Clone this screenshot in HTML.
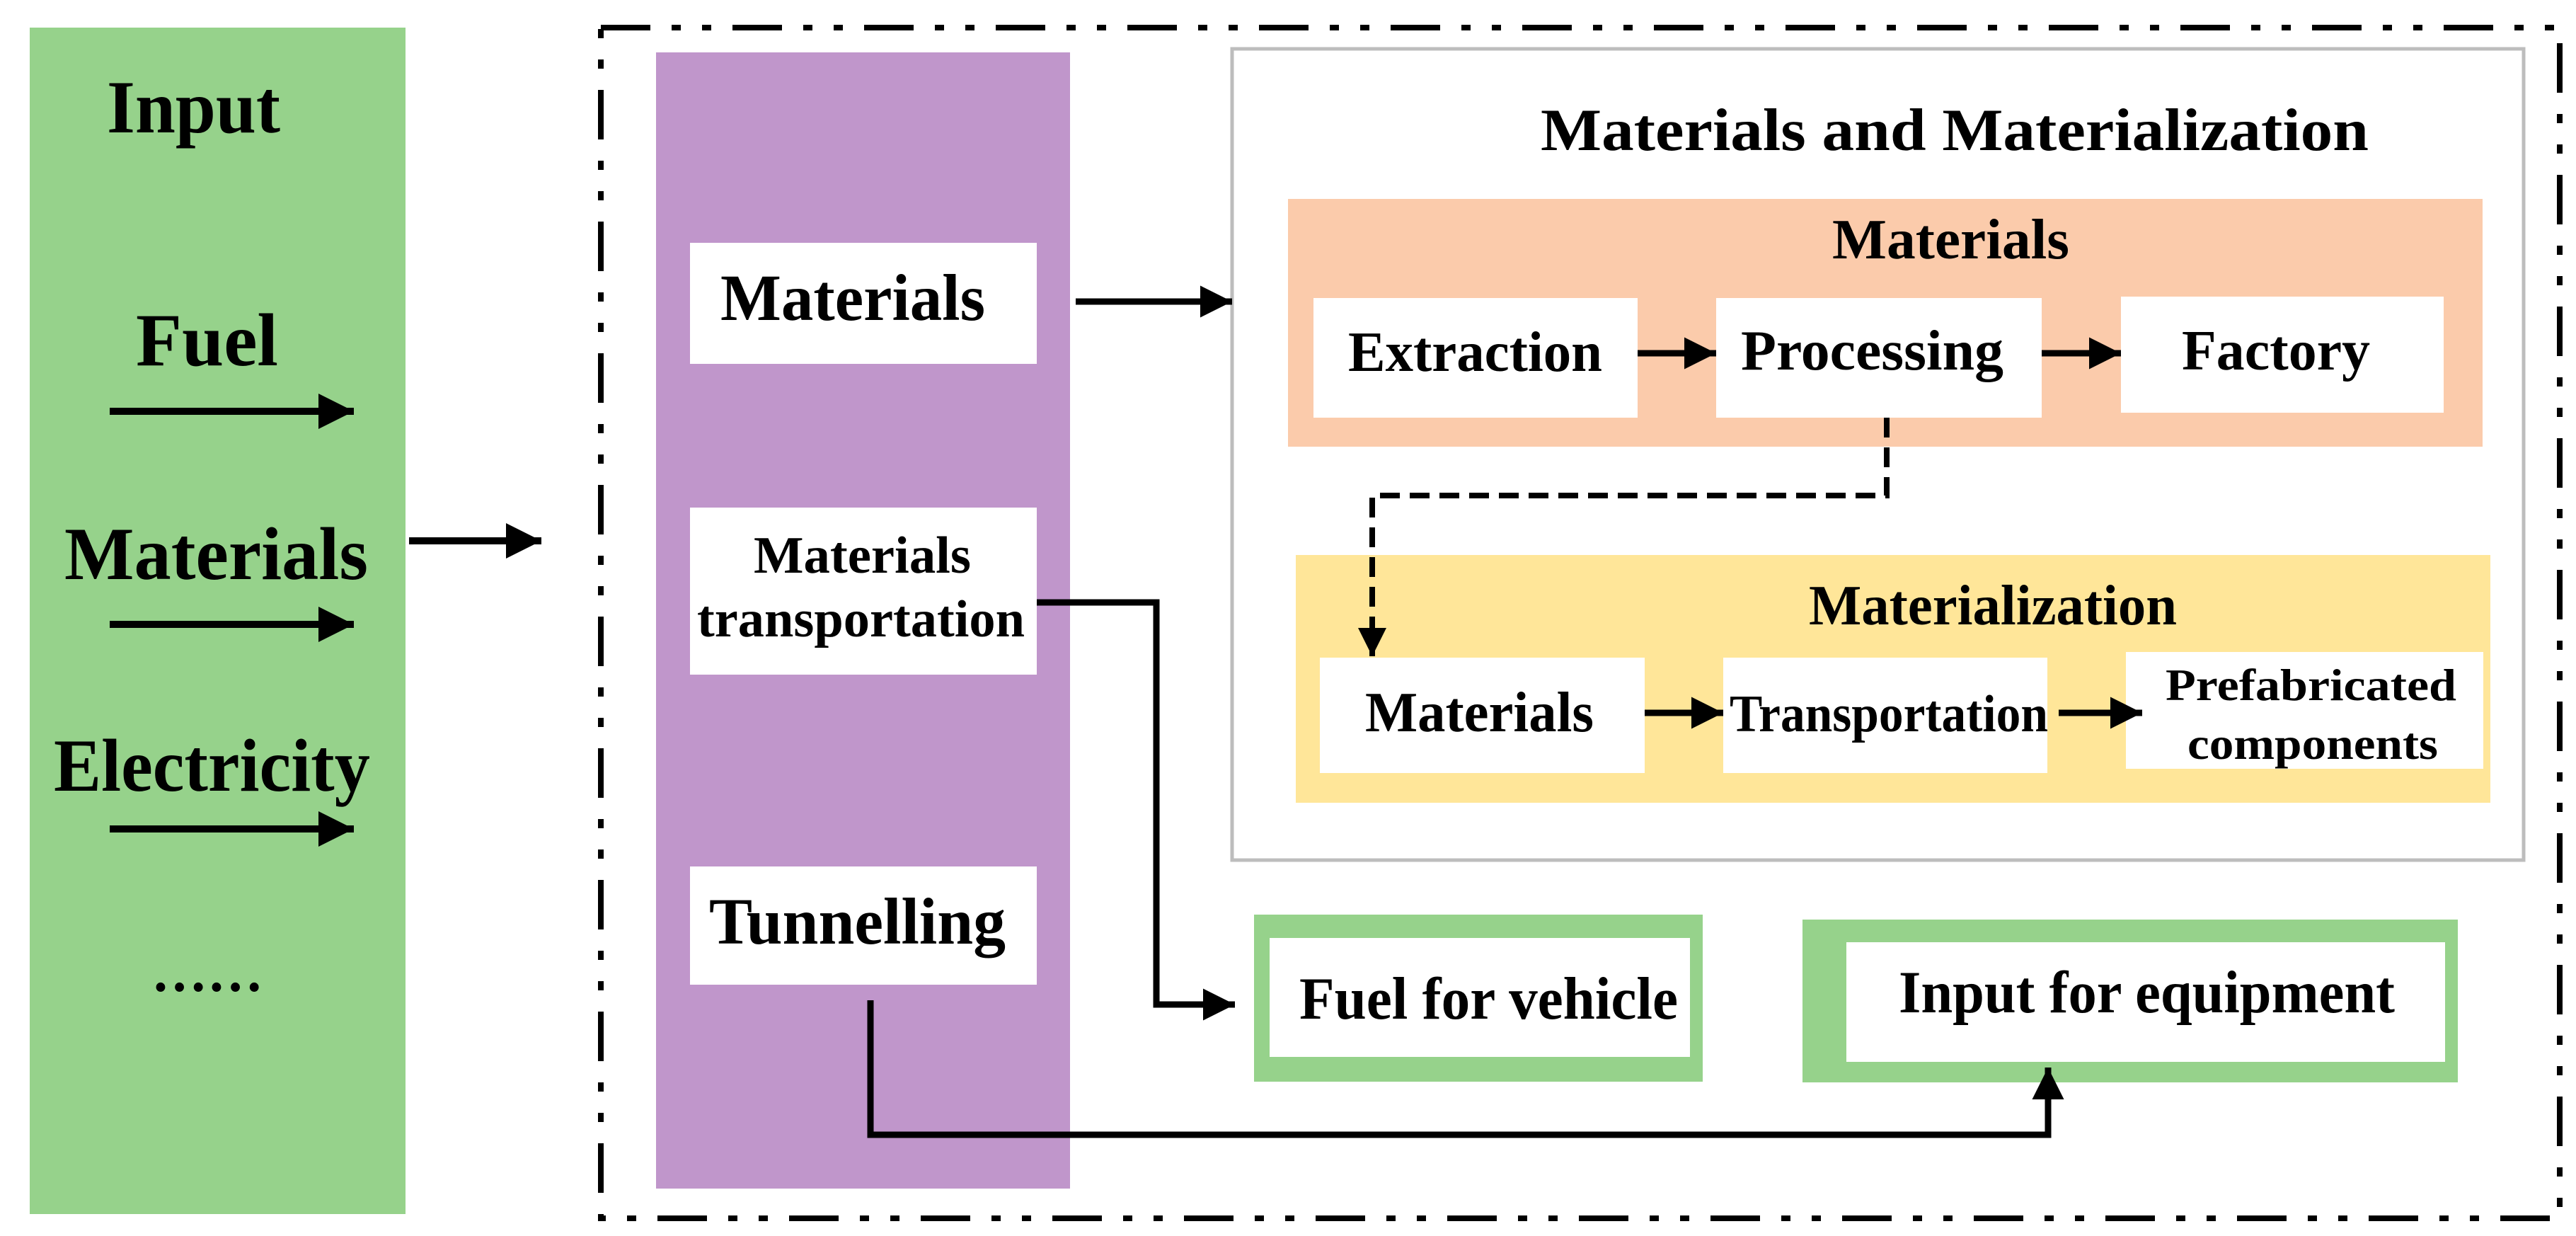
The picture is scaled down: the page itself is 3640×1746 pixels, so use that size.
<!DOCTYPE html>
<html><head><meta charset="utf-8"><style>html,body{margin:0;padding:0;background:#fff}svg{display:block}</style></head>
<body>
<svg width="3640" height="1746" viewBox="0 0 3640 1746" xmlns="http://www.w3.org/2000/svg" font-family="'Liberation Serif', serif" font-weight="bold" fill="#000">
<defs>
<marker id="ah" viewBox="0 0 10 10" refX="10" refY="5" markerWidth="5" markerHeight="5" markerUnits="strokeWidth" orient="auto"><path d="M0,0 L10,5 L0,10 z" fill="#000"/></marker>
</defs>
<rect width="3640" height="1746" fill="#fff"/>
<rect x="42" y="39" width="531" height="1676" fill="#96d28b"/>
<text x="151" y="187" font-size="106" textLength="245" lengthAdjust="spacingAndGlyphs">Input</text>
<text x="192" y="516" font-size="106" textLength="201" lengthAdjust="spacingAndGlyphs">Fuel</text>
<text x="91" y="818" font-size="106" textLength="429" lengthAdjust="spacingAndGlyphs">Materials</text>
<text x="76" y="1117" font-size="106" textLength="447" lengthAdjust="spacingAndGlyphs">Electricity</text>
<text x="214" y="1400" font-size="80" textLength="158" lengthAdjust="spacingAndGlyphs">……</text>
<g stroke="#000" stroke-width="10" fill="none">
<line x1="155" y1="581" x2="500" y2="581" marker-end="url(#ah)"/>
<line x1="155" y1="882" x2="500" y2="882" marker-end="url(#ah)"/>
<line x1="155" y1="1171" x2="500" y2="1171" marker-end="url(#ah)"/>
<line x1="578" y1="764" x2="765" y2="764" marker-end="url(#ah)"/>
</g>
<rect x="849" y="39" width="2768" height="1682" fill="none" stroke="#000" stroke-width="8" stroke-dasharray="70 30 13 30 13 30"/>
<rect x="927" y="74" width="585" height="1605" fill="#c096cb"/>
<rect x="975" y="343" width="490" height="171" fill="#fff"/>
<rect x="975" y="717" width="490" height="236" fill="#fff"/>
<rect x="975" y="1224" width="490" height="167" fill="#fff"/>
<text x="1018" y="452" font-size="93" textLength="374" lengthAdjust="spacingAndGlyphs">Materials</text>
<text x="1065" y="809" font-size="74" textLength="307" lengthAdjust="spacingAndGlyphs">Materials</text>
<text x="985" y="899" font-size="74" textLength="463" lengthAdjust="spacingAndGlyphs">transportation</text>
<text x="1002" y="1333" font-size="93" textLength="419" lengthAdjust="spacingAndGlyphs">Tunnelling</text>
<rect x="1741" y="69" width="1825" height="1146" fill="#fff" stroke="#bdbdbd" stroke-width="5"/>
<text x="2177" y="212" font-size="85" textLength="1170" lengthAdjust="spacingAndGlyphs">Materials and Materialization</text>
<rect x="1820" y="281" width="1688" height="350" fill="#fbcbab"/>
<text x="2589" y="365" font-size="80" textLength="335" lengthAdjust="spacingAndGlyphs">Materials</text>
<rect x="1856" y="421" width="458" height="169" fill="#fff"/>
<rect x="2425" y="421" width="460" height="169" fill="#fff"/>
<rect x="2997" y="419" width="456" height="164" fill="#fff"/>
<text x="1905" y="524" font-size="80" textLength="359" lengthAdjust="spacingAndGlyphs">Extraction</text>
<text x="2460" y="522" font-size="80" textLength="371" lengthAdjust="spacingAndGlyphs">Processing</text>
<text x="3083" y="522" font-size="80" textLength="266" lengthAdjust="spacingAndGlyphs">Factory</text>
<rect x="1831" y="784" width="1688" height="350" fill="#ffe699"/>
<text x="2556" y="882" font-size="80" textLength="520" lengthAdjust="spacingAndGlyphs">Materialization</text>
<rect x="1865" y="929" width="459" height="163" fill="#fff"/>
<rect x="2435" y="929" width="458" height="163" fill="#fff"/>
<rect x="3004" y="921" width="505" height="165" fill="#fff"/>
<text x="1929" y="1033" font-size="80" textLength="323" lengthAdjust="spacingAndGlyphs">Materials</text>
<text x="2444" y="1033" font-size="74" textLength="450" lengthAdjust="spacingAndGlyphs">Transportation</text>
<text x="3060" y="989" font-size="64" textLength="411" lengthAdjust="spacingAndGlyphs">Prefabricated</text>
<text x="3091" y="1072" font-size="64" textLength="354" lengthAdjust="spacingAndGlyphs">components</text>
<rect x="1772" y="1292" width="634" height="236" fill="#96d28b"/>
<rect x="1794" y="1325" width="594" height="168" fill="#fff"/>
<text x="1836" y="1439" font-size="85" textLength="535" lengthAdjust="spacingAndGlyphs">Fuel for vehicle</text>
<rect x="2547" y="1299" width="926" height="230" fill="#96d28b"/>
<rect x="2609" y="1331" width="846" height="169" fill="#fff"/>
<text x="2683" y="1430" font-size="85" textLength="701" lengthAdjust="spacingAndGlyphs">Input for equipment</text>
<g stroke="#000" stroke-width="9" fill="none">
<line x1="1520" y1="426" x2="1741" y2="426" marker-end="url(#ah)"/>
<line x1="2314" y1="499" x2="2425" y2="499" marker-end="url(#ah)"/>
<line x1="2885" y1="499" x2="2997" y2="499" marker-end="url(#ah)"/>
<line x1="2324" y1="1007" x2="2435" y2="1007" marker-end="url(#ah)"/>
<line x1="2909" y1="1007" x2="3027" y2="1007" marker-end="url(#ah)"/>
<polyline points="1465,851 1634,851 1634,1419 1745,1419" marker-end="url(#ah)"/>
<polyline points="1230,1413 1230,1603 2894,1603 2894,1508" marker-end="url(#ah)"/>
<polyline points="2666,590 2666,700 1939,700 1939,927" stroke-width="8" stroke-dasharray="28 14" marker-end="url(#ah)"/>
</g>
</svg>
</body></html>
